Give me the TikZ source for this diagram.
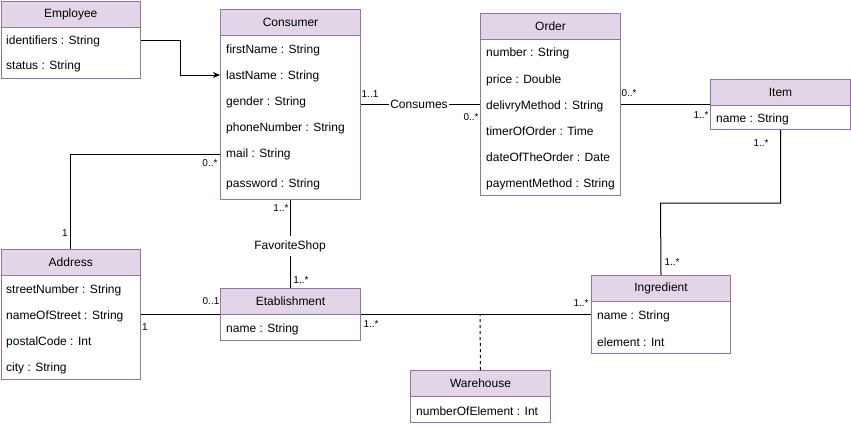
\documentclass[tikz,border=0pt]{standalone}
\usepackage{fontspec}
\setmainfont{Liberation Sans}
\usetikzlibrary{arrows.meta}
\definecolor{hdrfill}{HTML}{E1D5E7}
\definecolor{hdrline}{HTML}{9673A6}
\begin{document}
\begin{tikzpicture}[x=1pt,y=-1pt,
  box/.style={draw=hdrline, line width=1pt, anchor=north west, inner sep=0pt, fill=white},
  hdr/.style={box, fill=hdrfill, minimum height=26pt, font=\fontsize{12}{14}\selectfont},
  attr/.style={anchor=west, inner sep=0pt, yshift=-1pt, font=\fontsize{12}{14}\selectfont},
  conn/.style={line width=1pt, draw=black},
  mult/.style={inner sep=0pt, font=\fontsize{10}{12}\selectfont},
  lbl/.style={fill=white, font=\fontsize{12}{14}\selectfont}
]
\useasboundingbox (0,0) rectangle (851,426);

% Employee
\node[box, minimum width=139.5pt, minimum height=52pt] (empb) at (0.5,26) {};
\node[hdr, minimum width=139.5pt] (emp) at (0.5,0.5) {Employee};
\node[attr] (e1) at (6,40) {identifiers : String};
\node[attr] (e2) at (6,65) {status : String};

% Consumer
\node[box, minimum width=140pt, minimum height=164pt] (conb) at (220,35) {};
\node[hdr, minimum width=140pt] (con) at (220,9) {Consumer};
\node[attr] (c1) at (226,49) {firstName : String};
\node[attr] (c2) at (226,75) {lastName : String};
\node[attr] (c3) at (226,101) {gender : String};
\node[attr] (c4) at (226,127) {phoneNumber : String};
\node[attr] (c5) at (226,153) {mail : String};
\node[attr] (c6) at (226,183) {password : String};

% Order
\node[box, minimum width=140pt, minimum height=156pt] (ordb) at (480,39) {};
\node[hdr, minimum width=140pt] (ord) at (480,13) {Order};
\node[attr] (o1) at (486,52) {number : String};
\node[attr] (o2) at (486,79) {price : Double};
\node[attr] (o3) at (486,105) {delivryMethod : String};
\node[attr] (o4) at (486,130) {timerOfOrder : Time};
\node[attr] (o5) at (486,156) {dateOfTheOrder : Date};
\node[attr] (o6) at (486,183) {paymentMethod : String};

% Item
\node[box, minimum width=140pt, minimum height=24pt] (itemb) at (710,105) {};
\node[hdr, minimum width=140pt] (item) at (710,79) {Item};
\node[attr] (i1) at (716,118) {name : String};

% Address
\node[box, minimum width=139.5pt, minimum height=104pt] (addrb) at (0.5,275) {};
\node[hdr, minimum width=139.5pt] (addr) at (0.5,249) {Address};
\node[attr] (a1) at (6,289) {streetNumber : String};
\node[attr] (a2) at (6,315) {nameOfStreet : String};
\node[attr] (a3) at (6,341) {postalCode : Int};
\node[attr] (a4) at (6,367) {city : String};

% Etablishment
\node[box, minimum width=140pt, minimum height=26pt] (etb) at (220,314) {};
\node[hdr, minimum width=140pt] (et) at (220,288) {Etablishment};
\node[attr] (t1) at (226,328) {name : String};

% Ingredient
\node[box, minimum width=139pt, minimum height=52pt] (ingb) at (591,301) {};
\node[hdr, minimum width=139pt] (ing) at (591,275) {Ingredient};
\node[attr] (g1) at (597,315) {name : String};
\node[attr] (g2) at (597,341) {element : Int};

% Warehouse
\node[box, minimum width=140pt, minimum height=26pt] (whb) at (410,396) {};
\node[hdr, minimum width=140pt] (wh) at (410,370) {Warehouse};
\node[attr] (w1) at (416,410) {numberOfElement : Int};

% Connectors
\coordinate (k1) at (180,75);
\draw[conn, -{Stealth[length=7pt,width=6pt]}] (empb.east |- 0,40) -| (k1) -- (conb.west |- 0,75);

\draw[conn] (conb.east |- 0,104) -- (ordb.west |- 0,104);
\node[lbl, inner sep=1pt] (cons) at (419,104) {Consumes};

\draw[conn] (ordb.east |- 0,104) -- (item.west |- 0,104);

\coordinate (k2) at (660.5,203);
\draw[conn] (itemb.south) |- (k2) -- (ing.north);

\draw[conn] (conb.west |- 0,154) -| (addr.north);

\draw[conn] (conb.south) -- (et.north);
\node[lbl, inner sep=4pt] (fav) at (290,246) {FavoriteShop};

\draw[conn] (addrb.east |- etb.north west) -- (etb.north west);
\draw[conn] (etb.north east) -- (ingb.west |- etb.north east);
\coordinate (k3) at (480,314);
\draw[conn, dashed] (wh.north) -- (k3);

% Multiplicities
\node[mult] at (370,94) {1..1};
\node[mult] at (471,117) {0..*};
\node[mult] at (629,93) {0..*};
\node[mult] at (701,115) {1..*};
\node[mult] at (761,143) {1..*};
\node[mult] at (672,262) {1..*};
\node[mult] at (581,303) {1..*};
\node[mult] at (371,324) {1..*};
\node[mult] at (211,301) {0..1};
\node[mult] at (145,327) {1};
\node[mult] at (65,233) {1};
\node[mult] at (210,163) {0..*};
\node[mult] at (281,208) {1..*};
\node[mult] at (301,280) {1..*};
\end{tikzpicture}
\end{document}
